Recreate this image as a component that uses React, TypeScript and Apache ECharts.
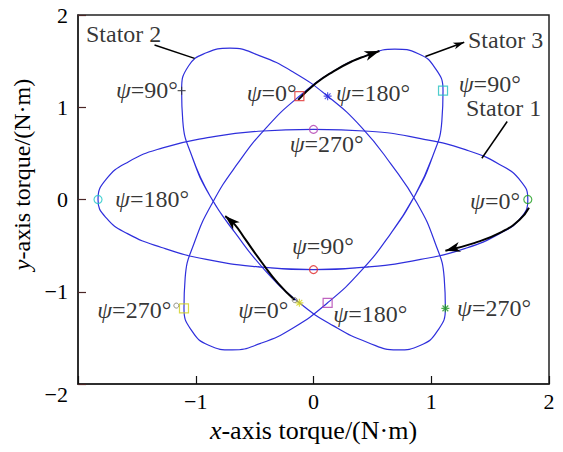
import React, { useEffect, useRef } from 'react';
import * as echarts from 'echarts';

type Pt = [number, number];

// Torque loci sampled every 15° of ψ (0°, 15°, …, 345°), in N·m
const PSI_STEP = 15;
const stator1: Pt[] = [
  [1.82, 0], [1.76, -0.2], [1.58, -0.37], [1.29, -0.53], [0.91, -0.65], [0.47, -0.73],
  [0, -0.76], [-0.47, -0.73], [-0.91, -0.65], [-1.29, -0.52], [-1.58, -0.37], [-1.76, -0.2],
  [-1.83, 0], [-1.76, 0.22], [-1.57, 0.41], [-1.28, 0.56], [-0.9, 0.67], [-0.47, 0.74],
  [0, 0.76], [0.47, 0.74], [0.91, 0.66], [1.29, 0.54], [1.58, 0.38], [1.76, 0.2],
];
const stator2: Pt[] = [
  [-0.12, -1.12], [-0.41, -0.77], [-0.66, -0.37], [-0.88, 0.04], [-1.03, 0.46], [-1.11, 0.85],
  [-1.12, 1.18], [-1.06, 1.45], [-0.91, 1.59], [-0.71, 1.64], [-0.46, 1.56], [-0.17, 1.38],
  [0.12, 1.12], [0.41, 0.78], [0.66, 0.38], [0.88, -0.04], [1.03, -0.46], [1.11, -0.85],
  [1.12, -1.18], [1.05, -1.43], [0.91, -1.58], [0.71, -1.63], [0.46, -1.55], [0.17, -1.37],
];
const stator3: Pt[] = [
  [-0.12, 1.12], [0.17, 1.39], [0.45, 1.56], [0.69, 1.63], [0.89, 1.58], [1.03, 1.43],
  [1.1, 1.18], [1.09, 0.85], [1.01, 0.46], [0.86, 0.04], [0.65, -0.38], [0.4, -0.78],
  [0.12, -1.12], [-0.17, -1.39], [-0.45, -1.56], [-0.69, -1.63], [-0.89, -1.58], [-1.03, -1.43],
  [-1.1, -1.18], [-1.09, -0.85], [-1.01, -0.46], [-0.86, -0.04], [-0.65, 0.38], [-0.4, 0.78],
];
const loops: Pt[][] = [stator1, stator2, stator3];
const statorNames = ['Stator 1', 'Stator 2', 'Stator 3'];
const markedPsi = [0, 90, 180, 270];

// rotation-direction arrows drawn along the loci
const arrowS1: Pt[] = [[1.83, -0.09], [1.75, -0.22], [1.6, -0.35], [1.37, -0.47], [1.12, -0.555]];
const arrowS2: Pt[] = [[-0.16, -1.09], [-0.3, -0.91], [-0.44, -0.68], [-0.58, -0.43], [-0.67, -0.27], [-0.75, -0.18]];
const arrowS3: Pt[] = [[-0.13, 1.08], [0.02, 1.26], [0.17, 1.39], [0.33, 1.5], [0.45, 1.56], [0.56, 1.61]];
const arrows: Pt[][] = [arrowS1, arrowS2, arrowS3];

// small auxiliary circles
const extraMarks: Pt[] = [[-1.165, -1.15], [-0.16, -1.09]];

// ---------- layout / style ----------
const SERIF = '"Liberation Serif", "Times New Roman", serif';
const LOOP_BLUE = '#2f2fdc';
const STAR = 'path://M0,-5L0,5M-5,0L5,0M-3.6,-3.6L3.6,3.6M-3.6,3.6L3.6,-3.6';
const PLUS = 'path://M0,-5L0,5M-5,0L5,0';

const markerLook = [
  [['circle', '#1e9e1e'], ['circle', '#e02424'], ['circle', '#22c8c8'], ['circle', '#b03ab0']],
  [[STAR, '#d6d61a'], [PLUS, '#333333'], [STAR, '#2a2ae0'], [STAR, '#1e9a1e']],
  [['rect', '#e03030'], ['rect', '#22c0c0'], ['rect', '#b03cb0'], ['rect', '#d0d01e']],
];
const markerSize = [8, 8, 9];

// anchors of the ψ labels (data units) and their alignment, per stator, in markedPsi order
const psiLabelAt: [number, number, string][][] = [
  [[1.754, -0.02, 'right'], [0.08, -0.5, 'center'], [-1.686, 0.01, 'left'], [0.112, 0.6, 'center']],
  [[-0.214, -1.2, 'right'], [-1.151, 1.19, 'right'], [0.191, 1.15, 'left'], [1.219, -1.18, 'left']],
  [[-0.143, 1.15, 'right'], [1.233, 1.25, 'left'], [0.168, -1.245, 'left'], [-1.208, -1.2, 'right']],
];
const nameAt: Pt[] = [[1.295, 0.992], [-1.932, 1.794], [1.312, 1.729]];

// leader lines from the names to their loci
const leaders: { from: Pt; to: Pt; head: boolean }[] = [
  { from: [1.645, 0.845], to: [1.43, 0.447], head: false },
  { from: [-1.35, 1.675], to: [-1.01, 1.53], head: false },
  { from: [0.95, 1.55], to: [1.28, 1.705], head: true },
];

const closeLoop = (pts: Pt[], start: number): Pt[] => {
  const n = pts.length;
  const out: Pt[] = [];
  for (let k = -1; k <= n + 1; k++) out.push(pts[(((start + k) % n) + n) % n]);
  return out;
};
const loopStart = [6, 3, 9];

const minus = (v: number) => String(v).replace('-', '\u2212');
const textBase = { fontFamily: SERIF, color: '#000' };

export default function App() {
  const ref = useRef<HTMLDivElement>(null);

  useEffect(() => {
    document.body.style.margin = '0';
    if (!ref.current) return;
    const chart = echarts.init(ref.current, null, { renderer: 'svg' });

    const series: any[] = [];

    loops.forEach((pts, i) => {
      series.push({
        type: 'line',
        data: closeLoop(pts, loopStart[i]),
        smooth: 0.5,
        symbol: 'none',
        silent: true,
        z: 2,
        lineStyle: { color: LOOP_BLUE, width: 1.2 },
      });
    });

    arrows.forEach((pts) => {
      series.push({
        type: 'line',
        data: pts,
        smooth: 0.5,
        symbol: 'none',
        silent: true,
        z: 5,
        lineStyle: { color: '#000', width: 2 },
      });
    });

    leaders.forEach((l) => {
      series.push({
        type: 'line',
        data: [l.from, l.to],
        symbol: 'none',
        silent: true,
        z: 5,
        lineStyle: { color: '#000', width: 1.5 },
      });
    });

    loops.forEach((pts, i) => {
      series.push({
        type: 'scatter',
        silent: true,
        z: 6,
        data: markedPsi.map((psi, j) => {
          const [symbol, color] = markerLook[i][j];
          return {
            value: pts[psi / PSI_STEP],
            symbol,
            symbolSize: markerSize[i],
            itemStyle: { color: 'rgba(0,0,0,0)', borderColor: color, borderWidth: 1.2 },
          };
        }),
      });
    });

    series.push({
      type: 'scatter',
      silent: true,
      z: 6,
      symbol: 'circle',
      symbolSize: 5,
      itemStyle: { color: 'rgba(0,0,0,0)', borderColor: '#777766', borderWidth: 1 },
      data: extraMarks,
    });

    // text annotations, grouped by alignment
    const labelItems: { value: Pt; text: string; align: string }[] = [];
    loops.forEach((_, i) => {
      markedPsi.forEach((psi, j) => {
        const [x, y, align] = psiLabelAt[i][j];
        labelItems.push({ value: [x, y], text: `{i|\u03c8}=${psi}\u00b0`, align });
      });
      labelItems.push({ value: nameAt[i], text: statorNames[i], align: 'left' });
    });
    ['left', 'right', 'center'].forEach((align) => {
      series.push({
        type: 'scatter',
        silent: true,
        clip: false,
        z: 8,
        symbolSize: 0,
        data: labelItems
          .filter((d) => d.align === align)
          .map((d) => ({ value: d.value, name: d.text })),
        label: {
          show: true,
          position: 'inside',
          align,
          verticalAlign: 'middle',
          ...textBase,
          fontSize: 24,
          formatter: (p: any) => p.name,
          rich: { i: { ...textBase, fontSize: 24, fontStyle: 'italic' } },
        },
      });
    });

    const option: any = {
      animation: false,
      backgroundColor: '#fff',
      grid: {
        left: 78, right: 14, top: 15, bottom: 68,
        show: true, borderColor: '#222', borderWidth: 1.5,
      },
      xAxis: {
        type: 'value', min: -2, max: 2, interval: 1,
        name: '{i|x}-axis torque/(N\u00b7m)',
        nameLocation: 'middle', nameGap: 33,
        nameTextStyle: { ...textBase, fontSize: 26, rich: { i: { ...textBase, fontSize: 26, fontStyle: 'italic' } } },
        axisLine: { show: true, onZero: false, lineStyle: { color: '#222', width: 1.5 } },
        axisTick: { show: true, inside: true, length: 8, lineStyle: { color: '#111', width: 1.2 } },
        axisLabel: { ...textBase, fontSize: 22, margin: 6, formatter: (v: number) => (v === -2 ? '' : minus(v)) },
        splitLine: { show: false },
      },
      yAxis: {
        type: 'value', min: -2, max: 2, interval: 1,
        name: '{i|y}-axis torque/(N\u00b7m)',
        nameLocation: 'middle', nameGap: 37, nameRotate: 90,
        nameTextStyle: {
          ...textBase, fontSize: 24, padding: [0, 0, 0, 50],
          rich: { i: { ...textBase, fontSize: 24, fontStyle: 'italic' } },
        },
        axisLine: { show: true, onZero: false, lineStyle: { color: '#222', width: 1.5 } },
        axisTick: { show: true, inside: true, length: 8, lineStyle: { color: '#4a2626', width: 1.2 } },
        axisLabel: {
          ...textBase, fontSize: 22, margin: 10,
          formatter: (v: number) => (v === -2 ? '{lo|' + minus(v) + '}' : minus(v)),
          rich: { lo: { ...textBase, fontSize: 22, padding: [20, 0, 0, 0] } },
        },
        splitLine: { show: false },
      },
      series,
    };
    chart.setOption(option);

    // arrowheads at the end of each arrow, oriented along its last segment in pixel space
    const toPx = (p: Pt) => chart.convertToPixel({ gridIndex: 0 }, p) as number[];
    const head = (prev: Pt, tip: Pt, len: number, wid: number) => {
      const a = toPx(prev);
      const b = toPx(tip);
      const dx = b[0] - a[0];
      const dy = b[1] - a[1];
      const d = Math.hypot(dx, dy) || 1;
      const ux = dx / d, uy = dy / d, nx = -uy, ny = ux;
      return {
        type: 'polygon',
        silent: true,
        z: 100,
        shape: {
          points: [
            [b[0], b[1]],
            [b[0] - len * ux + (wid / 2) * nx, b[1] - len * uy + (wid / 2) * ny],
            [b[0] - 0.72 * len * ux, b[1] - 0.72 * len * uy],
            [b[0] - len * ux - (wid / 2) * nx, b[1] - len * uy - (wid / 2) * ny],
          ],
        },
        style: { fill: '#000' },
      };
    };
    const graphic: any[] = arrows.map((pts) => head(pts[pts.length - 2], pts[pts.length - 1], 15, 10));
    leaders.filter((l) => l.head).forEach((l) => graphic.push(head(l.from, l.to, 11, 7)));
    chart.setOption({ graphic });

    return () => chart.dispose();
  }, []);

  return <div ref={ref} style={{ width: 563, height: 452 }} />;
}
